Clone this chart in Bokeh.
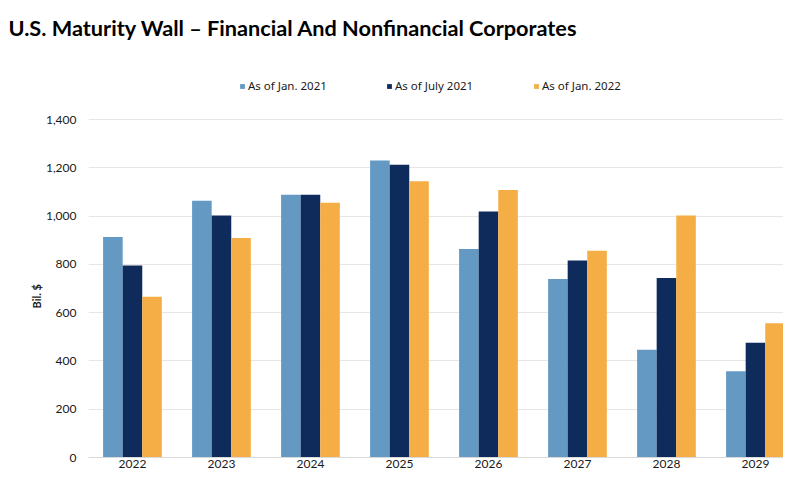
import numpy as np
from bokeh.plotting import figure
from bokeh.models import Range1d, FixedTicker, Legend, LegendItem, NumeralTickFormatter, Title
from bokeh.embed import file_html
from bokeh.resources import INLINE

years = ["2022", "2023", "2024", "2025", "2026", "2027", "2028", "2029"]
series_names = ["As of Jan. 2021", "As of July 2021", "As of Jan. 2022"]
jan_2021 = [913, 1063, 1088, 1230, 864, 739, 446, 357]
july_2021 = [795, 1002, 1088, 1213, 1019, 816, 743, 475]
jan_2022 = [666, 909, 1055, 1144, 1108, 856, 1002, 556]
y_ticks = [0, 200, 400, 600, 800, 1000, 1200, 1400]

colors = ["#6499C3", "#0E2B5C", "#F4AE45"]
offsets = [-0.22, 0.0, 0.22]

p = figure(width=783, height=474, output_backend="svg", toolbar_location=None,
           x_range=Range1d(-0.494, 7.315), y_range=Range1d(0, 1685.8),
           min_border_left=88, min_border_right=0, min_border_top=50, min_border_bottom=17)
p.outline_line_color = None
p.background_fill_color = "white"

p.title.text = "U.S. Maturity Wall \u2013 Financial And Nonfinancial Corporates"
p.title.align = "left"
p.title.offset = -80
p.title.standoff = 20
p.title.text_font = "Lato"
p.title.text_font_size = "21.7px"
p.title.text_font_style = "bold"
p.title.text_color = "#000000"

ylab = Title(text="Bil. $", align="left", offset=149, text_font="Lato",
             text_font_size="11px", text_font_style="bold", text_color="#1a1a1a", standoff=0)
p.add_layout(ylab, "left")

xs = np.arange(len(years))
renderers = []
for vals, c, off in zip([jan_2021, july_2021, jan_2022], colors, offsets):
    r = p.vbar(x=xs + off, top=vals, width=0.22, fill_color=c, line_color=None)
    renderers.append(r)

p.xaxis.ticker = FixedTicker(ticks=list(range(len(years))))
p.xaxis.major_label_overrides = {i: y for i, y in enumerate(years)}
p.xaxis.major_tick_line_color = None
p.xaxis.major_tick_out = 0
p.xaxis.minor_tick_line_color = None
p.xaxis.axis_line_color = "#D9D9D9"
p.xaxis.major_label_text_font = "Lato"
p.xaxis.major_label_text_font_size = "12px"
p.xaxis.major_label_text_color = "#1a1a1a"
p.xaxis.major_label_standoff = 2

p.yaxis.ticker = FixedTicker(ticks=y_ticks)
p.yaxis.formatter = NumeralTickFormatter(format="0,0")
p.yaxis.major_tick_line_color = None
p.yaxis.major_tick_out = 0
p.yaxis.minor_tick_line_color = None
p.yaxis.axis_line_color = None
p.yaxis.major_label_text_font = "Lato"
p.yaxis.major_label_text_font_size = "12px"
p.yaxis.major_label_text_color = "#1a1a1a"
p.yaxis.major_label_standoff = 12

p.xgrid.grid_line_color = None
p.ygrid.grid_line_color = "#E6E6E6"
p.ygrid.grid_line_width = 1

legend = Legend(items=[LegendItem(label=n, renderers=[r]) for n, r in zip(series_names, renderers)],
                orientation="horizontal", location=(151, 364),
                glyph_width=6, glyph_height=6, label_standoff=3, label_width=128,
                label_height=12, spacing=10, padding=0, margin=0,
                border_line_color=None, background_fill_alpha=0,
                label_text_font="Noto Sans", label_text_font_size="11.5px",
                label_text_color="#1a1a1a")
p.add_layout(legend, "center")

open("out.html", "w").write(file_html(p, INLINE))
